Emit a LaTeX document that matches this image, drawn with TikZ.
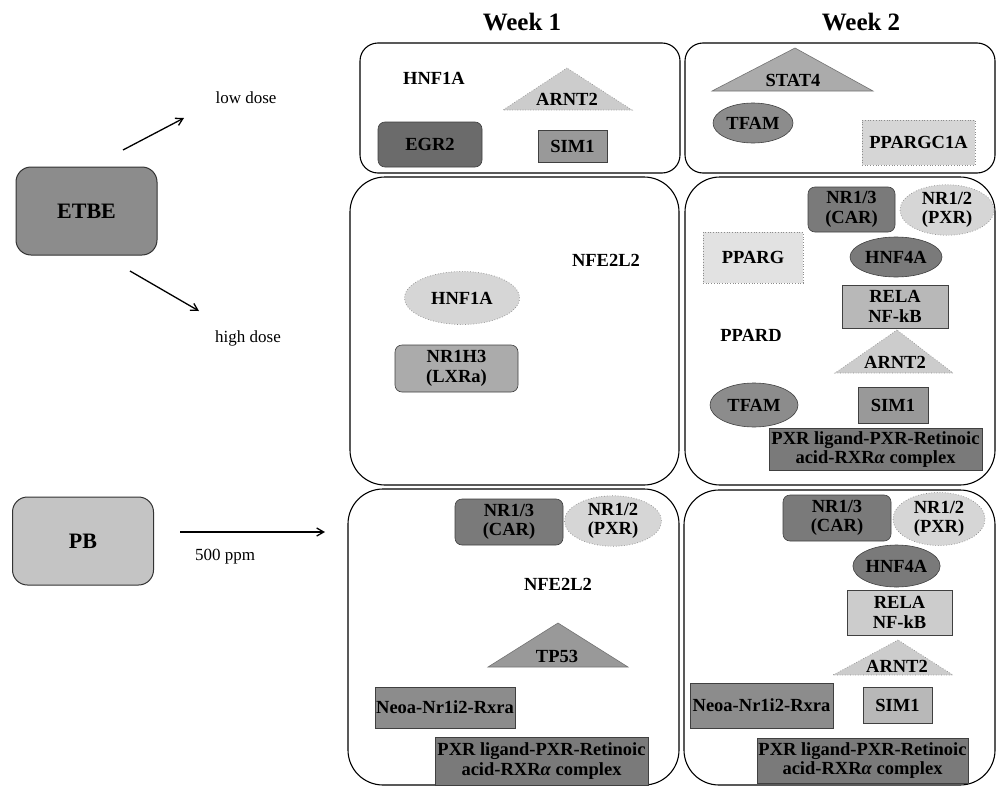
\documentclass[tikz,border=0pt]{standalone}
\usepackage{fontspec}
\setmainfont{Liberation Serif}
\usetikzlibrary{arrows.meta,shapes.geometric}
\definecolor{cA}{gray}{0.42}
\definecolor{cB}{gray}{0.48}
\definecolor{cC}{gray}{0.55}
\definecolor{cD}{gray}{0.60}
\definecolor{cE}{gray}{0.67}
\definecolor{cF}{gray}{0.72}
\definecolor{cG}{gray}{0.80}
\definecolor{cH}{gray}{0.84}
\definecolor{cEtbe}{gray}{0.55}
\definecolor{cPb}{gray}{0.77}
\tikzset{
  lbl/.style={font=\bfseries\fontsize{18.5}{19.5}\selectfont, align=center, inner sep=0pt},
  plain/.style={font=\fontsize{17}{19}\selectfont, inner sep=0pt},
  gbox/.style={lbl, draw=black!75, line width=0.6pt, rectangle},
  gell/.style={lbl, draw=black!75, line width=0.6pt, ellipse},
  soft/.style={draw=black!45, dotted, line width=0.7pt},
  panel/.style={draw=black, line width=1.1pt},
  tri/.style={draw=black!55, line width=0.6pt},
  arr/.style={line width=1.3pt, -{Straight Barb[length=7pt,width=8pt]}},
  src/.style={draw=black!80, line width=1pt, rounded corners=15pt, minimum width=141pt, minimum height=88pt,
    font=\bfseries\fontsize{22}{24}\selectfont}
}
\begin{document}
\begin{tikzpicture}[x=1pt,y=-1pt]
\path[use as bounding box, fill=white] (0,0) rectangle (998,787);

% headings
\node[font=\bfseries\fontsize{25}{27}\selectfont] (w1) at (522,22) {Week 1};
\node[font=\bfseries\fontsize{25}{27}\selectfont] (w2) at (861,22) {Week 2};

% panels
\draw[panel, rounded corners=18pt] (360,43) rectangle (680,173);
\draw[panel, rounded corners=18pt] (685,43) rectangle (995,173);
\draw[panel, rounded corners=35pt] (350,177) rectangle (679,485);
\draw[panel, rounded corners=35pt] (685,177) rectangle (995,485);
\draw[panel, rounded corners=35pt] (348,489) rectangle (679,785);
\draw[panel, rounded corners=35pt] (684,490) rectangle (995,785);

% left side
\node[src, fill=cEtbe] (etbe) at (86.5,211) {ETBE};
\node[src, fill=cPb] (pb) at (83,541) {PB};
\coordinate (lowS) at (123,150);
\coordinate (lowE) at (184,118);
\coordinate (highS) at (130,271);
\coordinate (highE) at (199,311);
\coordinate (pbS) at (180,532);
\coordinate (pbE) at (325,532);
\draw[arr] (lowS) -- (lowE);
\draw[arr] (highS) -- (highE);
\draw[arr] (pbS) -- (pbE);
\node[plain] (low) at (246,98) {low dose};
\node[plain] (high) at (248,338) {high dose};
\node[plain] (ppm) at (225,557) {500 ppm};

% ---- Top-left: week 1 low dose
\node[lbl] (hnfA) at (434,78) {HNF1A};
\draw[tri, soft, fill=cG] (567,68) -- (503,110) -- (632,110) -- cycle;
\node[lbl] (arntA) at (567,99) {ARNT2};
\node[gbox, fill=cA, rounded corners=7pt, minimum width=104pt, minimum height=45pt] (egr) at (430,144.5) {EGR2};
\node[gbox, fill=cD, minimum width=69pt, minimum height=32pt] (simA) at (572.5,146) {SIM1};

% ---- Top-right: week 2 low dose
\draw[tri, fill=cE] (795,48) -- (712,91) -- (873,91) -- cycle;
\node[lbl] (stat) at (793,80) {STAT4};
\node[gell, fill=cC, minimum width=80pt, minimum height=40pt] (tfamA) at (753,123) {TFAM};
\node[lbl, soft, fill=cH, minimum width=113pt, minimum height=45pt] (pgc) at (918.5,142.5) {PPARGC1A};

% ---- Middle-left: week 1 high dose
\node[lbl] (nfeA) at (606,260) {NFE2L2};
\node[lbl, ellipse, soft, fill=cH, minimum width=115pt, minimum height=53pt] (hnfB) at (462,298) {HNF1A};
\node[gbox, fill=cE, rounded corners=7pt, minimum width=123pt, minimum height=47pt] (lxr) at (456.5,368.5) {NR1H3\\(LXRa)};

% ---- Middle-right: week 2 high dose
\node[gbox, fill=cB, rounded corners=7pt, minimum width=87pt, minimum height=45pt] (carA) at (851.5,209.5) {NR1/3\\(CAR)};
\node[lbl, ellipse, soft, fill=cH, minimum width=94pt, minimum height=46pt] (pxrA) at (947,210) {NR1/2\\(PXR)};
\node[lbl, soft, fill=cH!70!white, minimum width=100pt, minimum height=51pt] (pparg) at (753,257.5) {PPARG};
\node[gell, fill=cB, minimum width=92pt, minimum height=40pt] (hnf4A) at (896,257) {HNF4A};
\node[gbox, fill=cF, minimum width=106pt, minimum height=43pt] (relaA) at (895,306.5) {RELA\\NF-kB};
\node[lbl] (ppard) at (751,335) {PPARD};
\draw[tri, soft, fill=cG] (897,330) -- (835,373) -- (953,373) -- cycle;
\node[lbl] (arntB) at (895,362) {ARNT2};
\node[gell, fill=cC, minimum width=88pt, minimum height=44pt] (tfamB) at (754,405) {TFAM};
\node[gbox, fill=cD, minimum width=70pt, minimum height=36pt] (simB) at (893,405) {SIM1};
\node[gbox, fill=cB, minimum width=213pt, minimum height=42pt] (cplxA) at (875.5,449.5) {PXR ligand-PXR-Retinoic\\acid-RXR\textit{α} complex};

% ---- Bottom-left: week 1 PB
\node[gbox, fill=cB, rounded corners=7pt, minimum width=108pt, minimum height=46pt] (carB) at (509,522) {NR1/3\\(CAR)};
\node[lbl, ellipse, soft, fill=cH, minimum width=97pt, minimum height=48pt] (pxrB) at (613,521) {NR1/2\\(PXR)};
\node[lbl] (nfeB) at (558,584) {NFE2L2};
\draw[tri, fill=cD] (558,623) -- (488,667) -- (628,667) -- cycle;
\node[lbl] (tp53) at (557,656) {TP53};
\node[gbox, fill=cC, minimum width=140pt, minimum height=41pt] (neoA) at (445,707.5) {Neoa-Nr1i2-Rxra};
\node[gbox, fill=cB, minimum width=213pt, minimum height=48pt] (cplxB) at (541.5,761) {PXR ligand-PXR-Retinoic\\acid-RXR\textit{α} complex};

% ---- Bottom-right: week 2 PB
\node[gbox, fill=cB, rounded corners=7pt, minimum width=108pt, minimum height=46pt] (carC) at (837,518) {NR1/3\\(CAR)};
\node[lbl, ellipse, soft, fill=cH, minimum width=92pt, minimum height=53pt] (pxrC) at (939,519) {NR1/2\\(PXR)};
\node[gell, fill=cB, minimum width=83pt, minimum height=42pt] (hnf4B) at (896.5,566) {HNF4A};
\node[gbox, fill=cG, minimum width=105pt, minimum height=45pt] (relaB) at (899.5,612.5) {RELA\\NF-kB};
\draw[tri, soft, fill=cG] (898,640) -- (833,675) -- (953,675) -- cycle;
\node[lbl] (arntC) at (897,666) {ARNT2};
\node[gbox, fill=cC, minimum width=143pt, minimum height=45pt] (neoB) at (761.5,705.5) {Neoa-Nr1i2-Rxra};
\node[gbox, fill=cF, minimum width=69pt, minimum height=36pt] (simC) at (897.5,705) {SIM1};
\node[gbox, fill=cB, minimum width=211pt, minimum height=45pt] (cplxC) at (862.5,760.5) {PXR ligand-PXR-Retinoic\\acid-RXR\textit{α} complex};
\end{tikzpicture}
\end{document}
